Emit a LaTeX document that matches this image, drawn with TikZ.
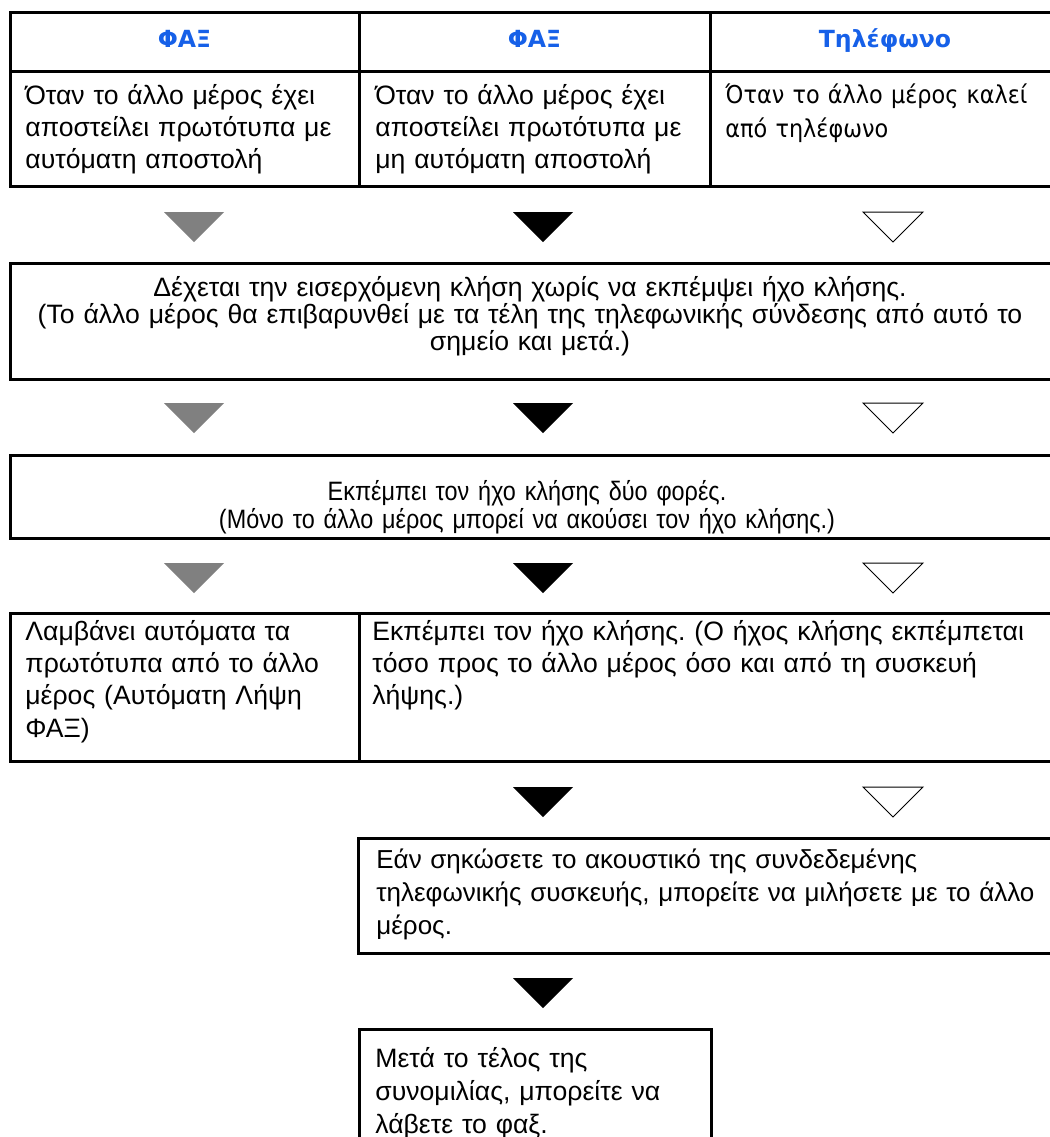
\documentclass[tikz,border=0pt]{standalone}
\usepackage{fontspec}
\setmainfont{Liberation Sans}
\newfontfamily\tahfont{DejaVu Sans}
\newfontfamily\tahbody[FakeStretch=0.91]{DejaVu Sans}
\newfontfamily\narrowfont[FakeStretch=0.88]{Liberation Sans}
\frenchspacing
\definecolor{faxblue}{RGB}{22,96,232}
\definecolor{faxgray}{RGB}{128,128,128}
\tikzset{
  frame/.style={line width=1.5pt},
  head/.style={anchor=base, inner sep=0pt, text=faxblue, font=\tahfont\bfseries\fontsize{11.8}{13}\selectfont},
  body/.style={anchor=base west, inner sep=0pt, text width=#1, align=left, font=\fontsize{13.3}{16}\selectfont},
  mid/.style={anchor=base, inner sep=0pt, text width=#1, align=center, font=\fontsize{13.3}{13.6}\selectfont},
  tgray/.style={fill=faxgray},
  tblack/.style={fill=black},
  twhite/.style={draw=black, line width=0.5pt, fill=white},
}
\begin{document}
\begin{tikzpicture}[x=0.5pt,y=-0.5pt]
\useasboundingbox (0,0) rectangle (1050,1137);
\clip (0,0) rectangle (1050,1137);
\draw[frame] (10,12) rectangle (1070,186);
\draw[frame] (10,71) -- (1070,71);
\draw[frame] (359,12) -- (359,186);
\draw[frame] (710,12) -- (710,186);
\node[head] (hfaxa) at (184.5,47) {ΦΑΞ};
\node[head] (hfaxb) at (534.5,47) {ΦΑΞ};
\node[head] (htel) at (885,47) {Τηλέφωνο};
\node[body=165pt] (conda) at (25,104) {Όταν το άλλο μέρος έχει\\αποστείλει πρωτότυπα με\\αυτόματη αποστολή};
\node[body=165pt] (condb) at (375,104) {Όταν το άλλο μέρος έχει\\αποστείλει πρωτότυπα με\\μη αυτόματη αποστολή};
\node[body=165pt, font=\tahbody\fontsize{12.3}{17}\selectfont] (condc) at (725,103) {Όταν το άλλο μέρος καλεί\\από τηλέφωνο};
\foreach \y in {212,403,563}
  \fill[tgray] (164,\y) -- (224,\y) -- (194,\y+30) -- cycle;
\foreach \y in {212,403,563,787,978}
  \fill[tblack] (513,\y) -- (573,\y) -- (543,\y+30) -- cycle;
\foreach \y in {212,403,563,787}
  \draw[twhite] (863,\y) -- (923,\y) -- (893,\y+30) -- cycle;
\draw[frame] (10,263) rectangle (1070,379);
\node[mid=520pt] (answer) at (530,296) {Δέχεται την εισερχόμενη κλήση χωρίς να εκπέμψει ήχο κλήσης.\\(Το άλλο μέρος θα επιβαρυνθεί με τα τέλη της τηλεφωνικής σύνδεσης από αυτό το\\σημείο και μετά.)};
\draw[frame] (10,455) rectangle (1070,538);
\node[mid=520pt, font=\narrowfont\fontsize{13.3}{14}\selectfont] (ring) at (527,500) {Εκπέμπει τον ήχο κλήσης δύο φορές.\\(Μόνο το άλλο μέρος μπορεί να ακούσει τον ήχο κλήσης.)};
\draw[frame] (10,613) rectangle (1070,761);
\draw[frame] (359,613) -- (359,761);
\node[body=165pt, font=\fontsize{13.3}{16.2}\selectfont] (autorx) at (25,640) {Λαμβάνει αυτόματα τα\\πρωτότυπα από το άλλο\\μέρος (Αυτόματη Λήψη\\ΦΑΞ)};
\node[body=340pt, font=\fontsize{13.3}{16.2}\selectfont] (ringboth) at (372,640) {Εκπέμπει τον ήχο κλήσης. (Ο ήχος κλήσης εκπέμπεται\\τόσο προς το άλλο μέρος όσο και από τη συσκευή\\λήψης.)};
\draw[frame] (358,838) rectangle (1070,953);
\node[body=340pt, font=\fontsize{13}{16.5}\selectfont] (talk) at (376,868) {Εάν σηκώσετε το ακουστικό της συνδεδεμένης\\τηλεφωνικής συσκευής, μπορείτε να μιλήσετε με το άλλο\\μέρος.};
\draw[frame] (359,1029) rectangle (711,1160);
\node[body=170pt, font=\fontsize{13.3}{16.5}\selectfont] (getfax) at (375,1067) {Μετά το τέλος της\\συνομιλίας, μπορείτε να\\λάβετε το φαξ.};
\end{tikzpicture}
\end{document}
